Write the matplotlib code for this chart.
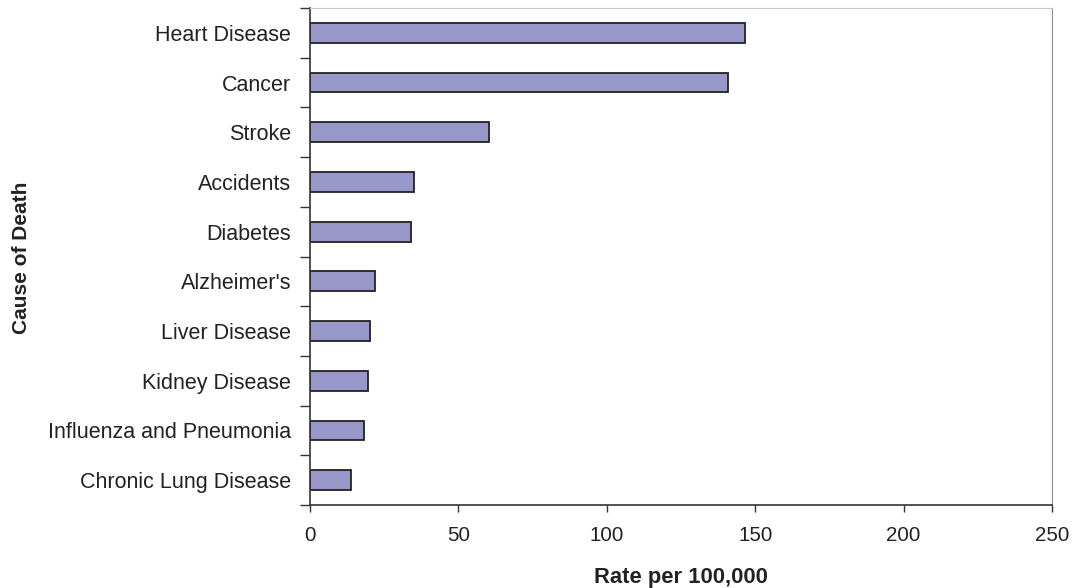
import matplotlib.pyplot as plt

plt.rcParams["font.family"] = ["Liberation Sans", "DejaVu Sans"]

causes = ["Heart Disease", "Cancer", "Stroke", "Accidents", "Diabetes",
          "Alzheimer's", "Liver Disease", "Kidney Disease",
          "Influenza and Pneumonia", "Chronic Lung Disease"]
rates = [146.4, 140.7, 60.4, 35.2, 33.9, 21.8, 20.1, 19.4, 18.3, 13.7]
x_ticks = [0, 50, 100, 150, 200, 250]

fig = plt.figure(figsize=(10.76, 5.88), dpi=100)
ax = fig.add_axes([310 / 1076, 1 - 505 / 588, 742 / 1076, 497 / 588])

n = len(causes)
ypos = list(range(n))[::-1]
ax.barh(ypos, rates, height=0.4, color="#9797C9", edgecolor="#222222",
        linewidth=1.3)

ax.set_xlim(0, 250)
ax.set_ylim(-0.5, n - 0.5)
ax.set_xticks(x_ticks)
ax.set_xticklabels([str(t) for t in x_ticks])

# category labels centred, tick marks at the boundaries
ax.set_yticks(ypos)
ax.set_yticklabels(causes)
ax.set_yticks([i - 0.5 for i in range(n + 1)], minor=True)
ax.tick_params(axis="y", which="major", length=0, pad=13.5, labelsize=15.5,
               colors="#222222")
ax.tick_params(axis="y", which="minor", length=7, width=1, color="#333333")
ax.tick_params(axis="x", length=5, width=1, color="#333333", pad=10,
               labelsize=14.8, labelcolor="#222222")

for side in ("left", "bottom"):
    ax.spines[side].set_color("#333333")
    ax.spines[side].set_linewidth(1.2)
ax.spines["top"].set_color("#c8c8c8")
ax.spines["right"].set_color("#909090")

ax.set_xlabel("Rate per 100,000", fontsize=15.8, fontweight="bold",
              labelpad=16, color="#222222")
fig.text(22 / 1076, 1 - 258 / 588, "Cause of Death", rotation=90,
         fontsize=15, fontweight="bold", ha="center", va="center",
         color="#222222")

fig.savefig("out.png", dpi=100, facecolor="white")
